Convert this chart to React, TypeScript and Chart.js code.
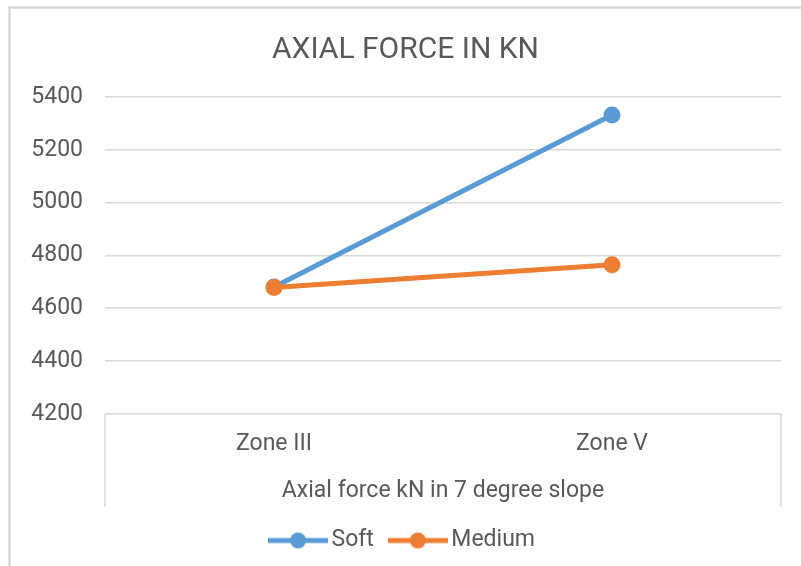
import React, { useEffect, useRef } from "react";
import { Chart, registerables } from "chart.js";

Chart.register(...registerables);

const categories = ["Zone III", "Zone V"];
const softValues = [4680, 5332];
const mediumValues = [4678, 4765];
const seriesNames = ["Soft", "Medium"];
const seriesColors = ["#5b9bd5", "#ed7d31"];
const yMin = 4200;
const yMax = 5400;
const yStep = 200;
const chartTitle = "AXIAL FORCE IN KN";
const groupLabel = "Axial force kN in 7 degree slope";

const TEXT = "#595959";
const GRID = "#d9d9d9";

function legendSymbol(color: string): HTMLCanvasElement {
  const c = document.createElement("canvas");
  c.width = 60;
  c.height = 20;
  const g = c.getContext("2d")!;
  g.strokeStyle = color;
  g.lineWidth = 5;
  g.beginPath();
  g.moveTo(0, 10);
  g.lineTo(60, 10);
  g.stroke();
  g.fillStyle = color;
  g.beginPath();
  g.arc(30, 10, 8, 0, Math.PI * 2);
  g.fill();
  return c;
}

const framePlugin = {
  id: "frame",
  beforeDraw(chart: any) {
    const ctx = chart.ctx;
    ctx.save();
    ctx.strokeStyle = GRID;
    ctx.lineWidth = 2.5;
    ctx.beginPath();
    ctx.moveTo(9.5, chart.height + 5);
    ctx.lineTo(9.5, 7.5);
    ctx.lineTo(chart.width + 5, 7.5);
    ctx.stroke();
    ctx.restore();
  },
  afterDraw(chart: any) {
    const x = chart.scales.x;
    const ctx = chart.ctx;
    ctx.save();
    ctx.strokeStyle = GRID;
    ctx.lineWidth = 1.5;
    ctx.beginPath();
    ctx.moveTo(x.left, x.top);
    ctx.lineTo(x.left, x.bottom);
    ctx.moveTo(x.right, x.top);
    ctx.lineTo(x.right, x.bottom);
    ctx.stroke();
    ctx.restore();
  },
};

export default function App() {
  const ref = useRef<HTMLCanvasElement>(null);

  useEffect(() => {
    if (!ref.current) return;
    Chart.defaults.font.family = "Roboto";
    const symbols = seriesColors.map(legendSymbol);
    const chart = new Chart(ref.current, {
      type: "line",
      data: {
        labels: categories,
        datasets: [
          {
            label: seriesNames[0],
            data: softValues,
            order: 2,
            borderColor: seriesColors[0],
            backgroundColor: seriesColors[0],
            borderWidth: 5,
            pointRadius: 8.5,
            pointBorderWidth: 0,
            pointBackgroundColor: seriesColors[0],
          },
          {
            label: seriesNames[1],
            data: mediumValues,
            order: 1,
            borderColor: seriesColors[1],
            backgroundColor: seriesColors[1],
            borderWidth: 5,
            pointRadius: 8.5,
            pointBorderWidth: 0,
            pointBackgroundColor: seriesColors[1],
          },
        ],
      },
      options: {
        responsive: false,
        animation: false,
        layout: { padding: { left: 30, right: 20, top: 0, bottom: 4 } },
        plugins: {
          tooltip: { enabled: false },
          title: {
            display: true,
            text: chartTitle,
            color: TEXT,
            font: { size: 30, weight: "normal" as any },
            padding: { top: 32, bottom: 29 },
          },
          legend: {
            position: "bottom",
            labels: {
              color: TEXT,
              font: { size: 23 },
              usePointStyle: true,
              pointStyleWidth: 44,
              padding: 22,
              sort: (a: any, b: any) => a.datasetIndex - b.datasetIndex,
              generateLabels: (c: any) => {
                const items = Chart.defaults.plugins.legend.labels.generateLabels(c);
                return items.map((it: any) => ({
                  ...it,
                  pointStyle: symbols[it.datasetIndex],
                }));
              },
            },
          },
        },
        scales: {
          x: {
            offset: true,
            grid: { display: false, drawTicks: false },
            border: { display: false },
            ticks: { color: TEXT, font: { size: 23 }, padding: 17 },
            title: {
              display: true,
              text: groupLabel,
              color: TEXT,
              font: { size: 23 },
              padding: { top: 2, bottom: 2 },
            },
          },
          y: {
            min: yMin,
            max: yMax,
            grid: { color: GRID, lineWidth: 1.5, drawTicks: false },
            border: { display: false },
            ticks: {
              stepSize: yStep,
              color: TEXT,
              font: { size: 23 },
              padding: 22,
              callback: (v: any) => String(v),
            },
            afterFit: (s: any) => {
              s.width = 75;
            },
          },
        },
      },
      plugins: [framePlugin],
    });
    return () => chart.destroy();
  }, []);

  return (
    <div style={{ position: "fixed", left: 0, top: 0, width: 801, height: 566, background: "#fff" }}>
      <canvas ref={ref} width={801} height={566} style={{ display: "block" }} />
    </div>
  );
}
